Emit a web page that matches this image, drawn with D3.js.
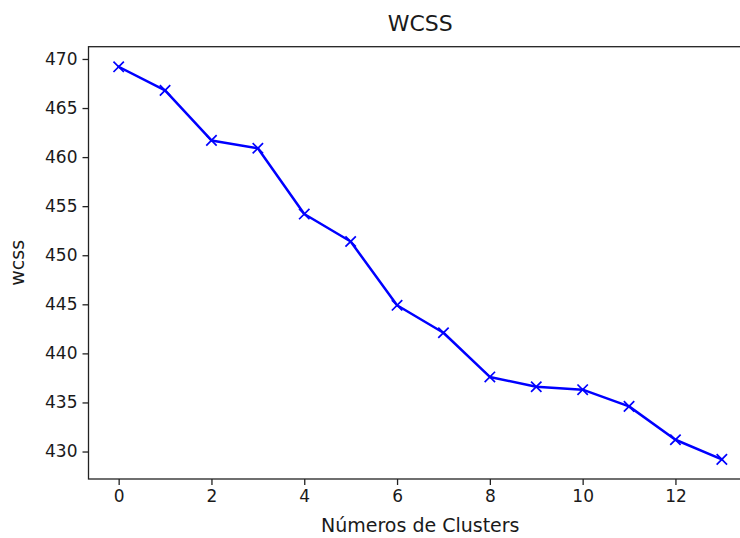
<!DOCTYPE html>
<html>
<head>
<meta charset="utf-8">
<script src="https://cdn.jsdelivr.net/npm/d3@7"></script>
<style>
  body { margin: 0; background: #fff; }
  svg { display: block; font-family: "DejaVu Sans", sans-serif; }
</style>
</head>
<body>
<svg id="chart"></svg>
<script>
const clusters = [0, 1, 2, 3, 4, 5, 6, 7, 8, 9, 10, 11, 12, 13];
const wcss = [469.2, 466.8, 461.7, 460.9, 454.2, 451.4, 444.9, 442.1, 437.6, 436.6, 436.3, 434.6, 431.2, 429.2];
const xTicks = [0, 2, 4, 6, 8, 10, 12];
const yTicks = [430, 435, 440, 445, 450, 455, 460, 465, 470];

const width = 740;
const height = 538;
const marginLeft = 88.5;
const marginTop = 46.7;
const plotRight = 752;
const plotBottom = 479;
const textColor = "#1a1a1a";

const svg = d3.select("#chart").attr("width", width).attr("height", height);

// matplotlib-like 5% margins
const xScale = d3.scaleLinear().domain([-0.65, 13.65]).range([marginLeft, plotRight]);
const yScale = d3.scaleLinear().domain([427.2, 471.25]).range([plotBottom, marginTop]);

const xAxis = svg.append("g")
  .attr("transform", `translate(0,${plotBottom})`)
  .call(d3.axisBottom(xScale).tickValues(xTicks).tickSize(6).tickPadding(5).tickFormat(d3.format("d")));

const yAxis = svg.append("g")
  .attr("transform", `translate(${marginLeft},0)`)
  .call(d3.axisLeft(yScale).tickValues(yTicks).tickSize(6).tickPadding(5).tickFormat(d3.format("d")));

[xAxis, yAxis].forEach((g) => {
  g.select(".domain").remove();
  g.selectAll(".tick line").attr("stroke", "#222").attr("stroke-width", 1.3);
  g.selectAll(".tick text")
    .attr("fill", textColor)
    .style("font-size", "17px")
    .style("font-family", "'DejaVu Sans', sans-serif");
});

// spines
svg.append("rect")
  .attr("x", marginLeft)
  .attr("y", marginTop)
  .attr("width", plotRight - marginLeft)
  .attr("height", plotBottom - marginTop)
  .attr("fill", "none")
  .attr("stroke", "#222")
  .attr("stroke-width", 1.3);

const line = d3.line()
  .x((d, i) => xScale(clusters[i]))
  .y((d) => yScale(d));

svg.append("path")
  .datum(wcss)
  .attr("d", line)
  .attr("fill", "none")
  .attr("stroke", "#0000ff")
  .attr("stroke-width", 2.5)
  .attr("stroke-linejoin", "round")
  .attr("stroke-linecap", "square");

const m = 5.2;
svg.append("g")
  .selectAll("path")
  .data(wcss)
  .join("path")
  .attr("d", (d, i) => {
    const cx = xScale(clusters[i]);
    const cy = yScale(d);
    return `M${cx - m},${cy - m}L${cx + m},${cy + m}M${cx - m},${cy + m}L${cx + m},${cy - m}`;
  })
  .attr("stroke", "#0000ff")
  .attr("stroke-width", 1.7)
  .attr("fill", "none");

svg.append("text")
  .attr("x", (marginLeft + plotRight) / 2)
  .attr("y", 31)
  .attr("text-anchor", "middle")
  .attr("fill", textColor)
  .style("font-size", "22px")
  .text("WCSS");

svg.append("text")
  .attr("x", (marginLeft + plotRight) / 2)
  .attr("y", 532)
  .attr("text-anchor", "middle")
  .attr("fill", textColor)
  .style("font-size", "19px")
  .text("Números de Clusters");

svg.append("text")
  .attr("transform", `translate(24,${(marginTop + plotBottom) / 2}) rotate(-90)`)
  .attr("text-anchor", "middle")
  .attr("fill", textColor)
  .style("font-size", "19px")
  .text("wcss");
</script>
</body>
</html>
